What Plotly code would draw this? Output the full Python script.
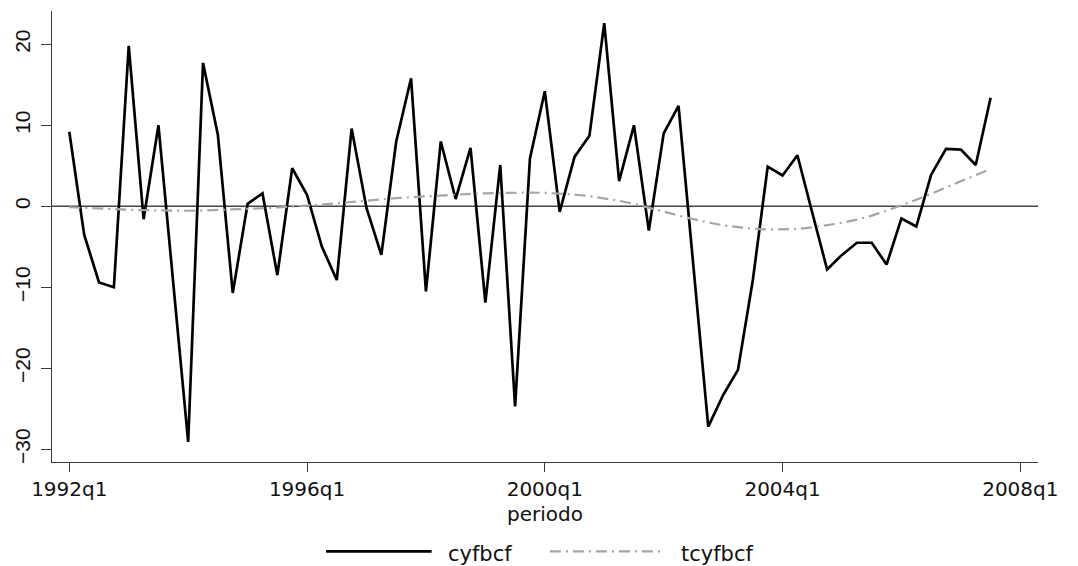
import plotly.graph_objects as go

# ---- data -------------------------------------------------------------
periods = [f"{y}q{q}" for y in range(1992, 2008) for q in range(1, 5)][:63]

cyfbcf = [9.2, -3.5, -9.4, -10.0, 19.8, -1.6, 10.0, -9.5, -29.1, 17.7,
          8.8, -10.7, 0.3, 1.6, -8.5, 4.7, 1.4, -5.0, -9.1, 9.6,
          -0.2, -6.0, 8.0, 15.8, -10.5, 8.0, 0.9, 7.2, -11.9, 5.1,
          -24.7, 5.9, 14.2, -0.7, 6.1, 8.7, 22.6, 3.1, 10.0, -3.0,
          9.0, 12.4, -7.4, -27.2, -23.3, -20.2, -9.1, 4.9, 3.8, 6.3,
          -0.8, -7.8, -6.0, -4.5, -4.5, -7.2, -1.5, -2.5, 3.9, 7.1,
          7.0, 5.1, 13.4]

tcyfbcf = [-0.12, -0.22, -0.3, -0.37, -0.43, -0.48, -0.52, -0.54, -0.55, -0.52,
           -0.47, -0.4, -0.32, -0.24, -0.15, -0.05, 0.05, 0.2, 0.38, 0.55,
           0.7, 0.85, 1.0, 1.12, 1.24, 1.35, 1.45, 1.53, 1.6, 1.65,
           1.69, 1.7, 1.66, 1.57, 1.45, 1.25, 1.0, 0.68, 0.3, -0.15,
           -0.65, -1.15, -1.6, -2.0, -2.35, -2.6, -2.78, -2.87, -2.88, -2.8,
           -2.6, -2.35, -2.05, -1.65, -1.15, -0.55, 0.1, 0.8, 1.55, 2.35,
           3.1, 3.85, 4.6]

x_tick_labels = ["1992q1", "1996q1", "2000q1", "2004q1", "2008q1"]
y_tick_vals = [-30, -20, -10, 0, 10, 20]
series_names = ["cyfbcf", "tcyfbcf"]
x_title = "periodo"

# ---- figure -----------------------------------------------------------
xpos = list(range(len(periods)))
x_tick_vals = [(int(l[:4]) - 1992) * 4 + int(l[5]) - 1 for l in x_tick_labels]

AX = "#3a3a3a"
TXT = "#111111"
HFONT = "DejaVu Sans"

fig = go.Figure()
fig.add_trace(go.Scatter(
    x=xpos, y=cyfbcf, mode="lines", name=series_names[0],
    line=dict(color="black", width=2.7), hoverinfo="y", showlegend=False))
fig.add_trace(go.Scatter(
    x=xpos, y=tcyfbcf, mode="lines", name=series_names[1],
    line=dict(color="#a6a6a6", width=2.2, dash="11px,5px,2px,5px"),
    hoverinfo="y", showlegend=False))

# zero reference line
fig.add_shape(type="line", xref="paper", x0=0, x1=1, yref="y", y0=0, y1=0,
              line=dict(color="#444444", width=1.4), layer="below")

# manual legend (long line samples like the original)
leg_y = -0.198
fig.add_shape(type="line", xref="paper", yref="paper", x0=0.278, x1=0.385,
              y0=leg_y, y1=leg_y, line=dict(color="black", width=2.7))
fig.add_shape(type="line", xref="paper", yref="paper", x0=0.505, x1=0.617,
              y0=leg_y, y1=leg_y,
              line=dict(color="#a6a6a6", width=2.2, dash="11px,5px,2px,5px"))
fig.add_annotation(xref="paper", yref="paper", x=0.4006, y=leg_y - 0.006,
                   text=series_names[0], showarrow=False, xanchor="left",
                   yanchor="middle", borderpad=0,
                   font=dict(family=HFONT, size=21, color=TXT))
fig.add_annotation(xref="paper", yref="paper", x=0.637, y=leg_y - 0.006,
                   text=series_names[1], showarrow=False, xanchor="left",
                   yanchor="middle", borderpad=0,
                   font=dict(family=HFONT, size=21, color=TXT))

# x axis title
fig.add_annotation(xref="paper", yref="paper", x=0.5, y=-0.115,
                   text=x_title, showarrow=False, xanchor="center",
                   yanchor="middle", borderpad=0,
                   font=dict(family=HFONT, size=20, color=TXT))

fig.update_layout(
    width=1078, height=566,
    margin=dict(l=52, r=40, t=11, b=104, autoexpand=False),
    paper_bgcolor="white", plot_bgcolor="white",
    showlegend=False,
    xaxis=dict(
        range=[-1.164, 65.19], tickmode="array", tickvals=x_tick_vals,
        ticktext=x_tick_labels, showgrid=False, zeroline=False,
        automargin=False,
        showline=True, linecolor=AX, linewidth=1.3,
        ticks="outside", ticklen=9, tickwidth=1.3, tickcolor=AX,
        ticklabelstandoff=0,
        tickfont=dict(family=HFONT, size=20, color=TXT)),
    yaxis=dict(
        range=[-31.57, 24.11], tickmode="array", tickvals=y_tick_vals,
        showgrid=False, zeroline=False, automargin=False,
        showline=True, linecolor=AX, linewidth=1.3,
        ticks="outside", ticklen=10, tickwidth=1.3, tickcolor=AX,
        tickangle=-90, ticklabelstandoff=2,
        tickfont=dict(family="Liberation Sans", size=21, color=TXT)),
)

fig.write_html("out.html")
